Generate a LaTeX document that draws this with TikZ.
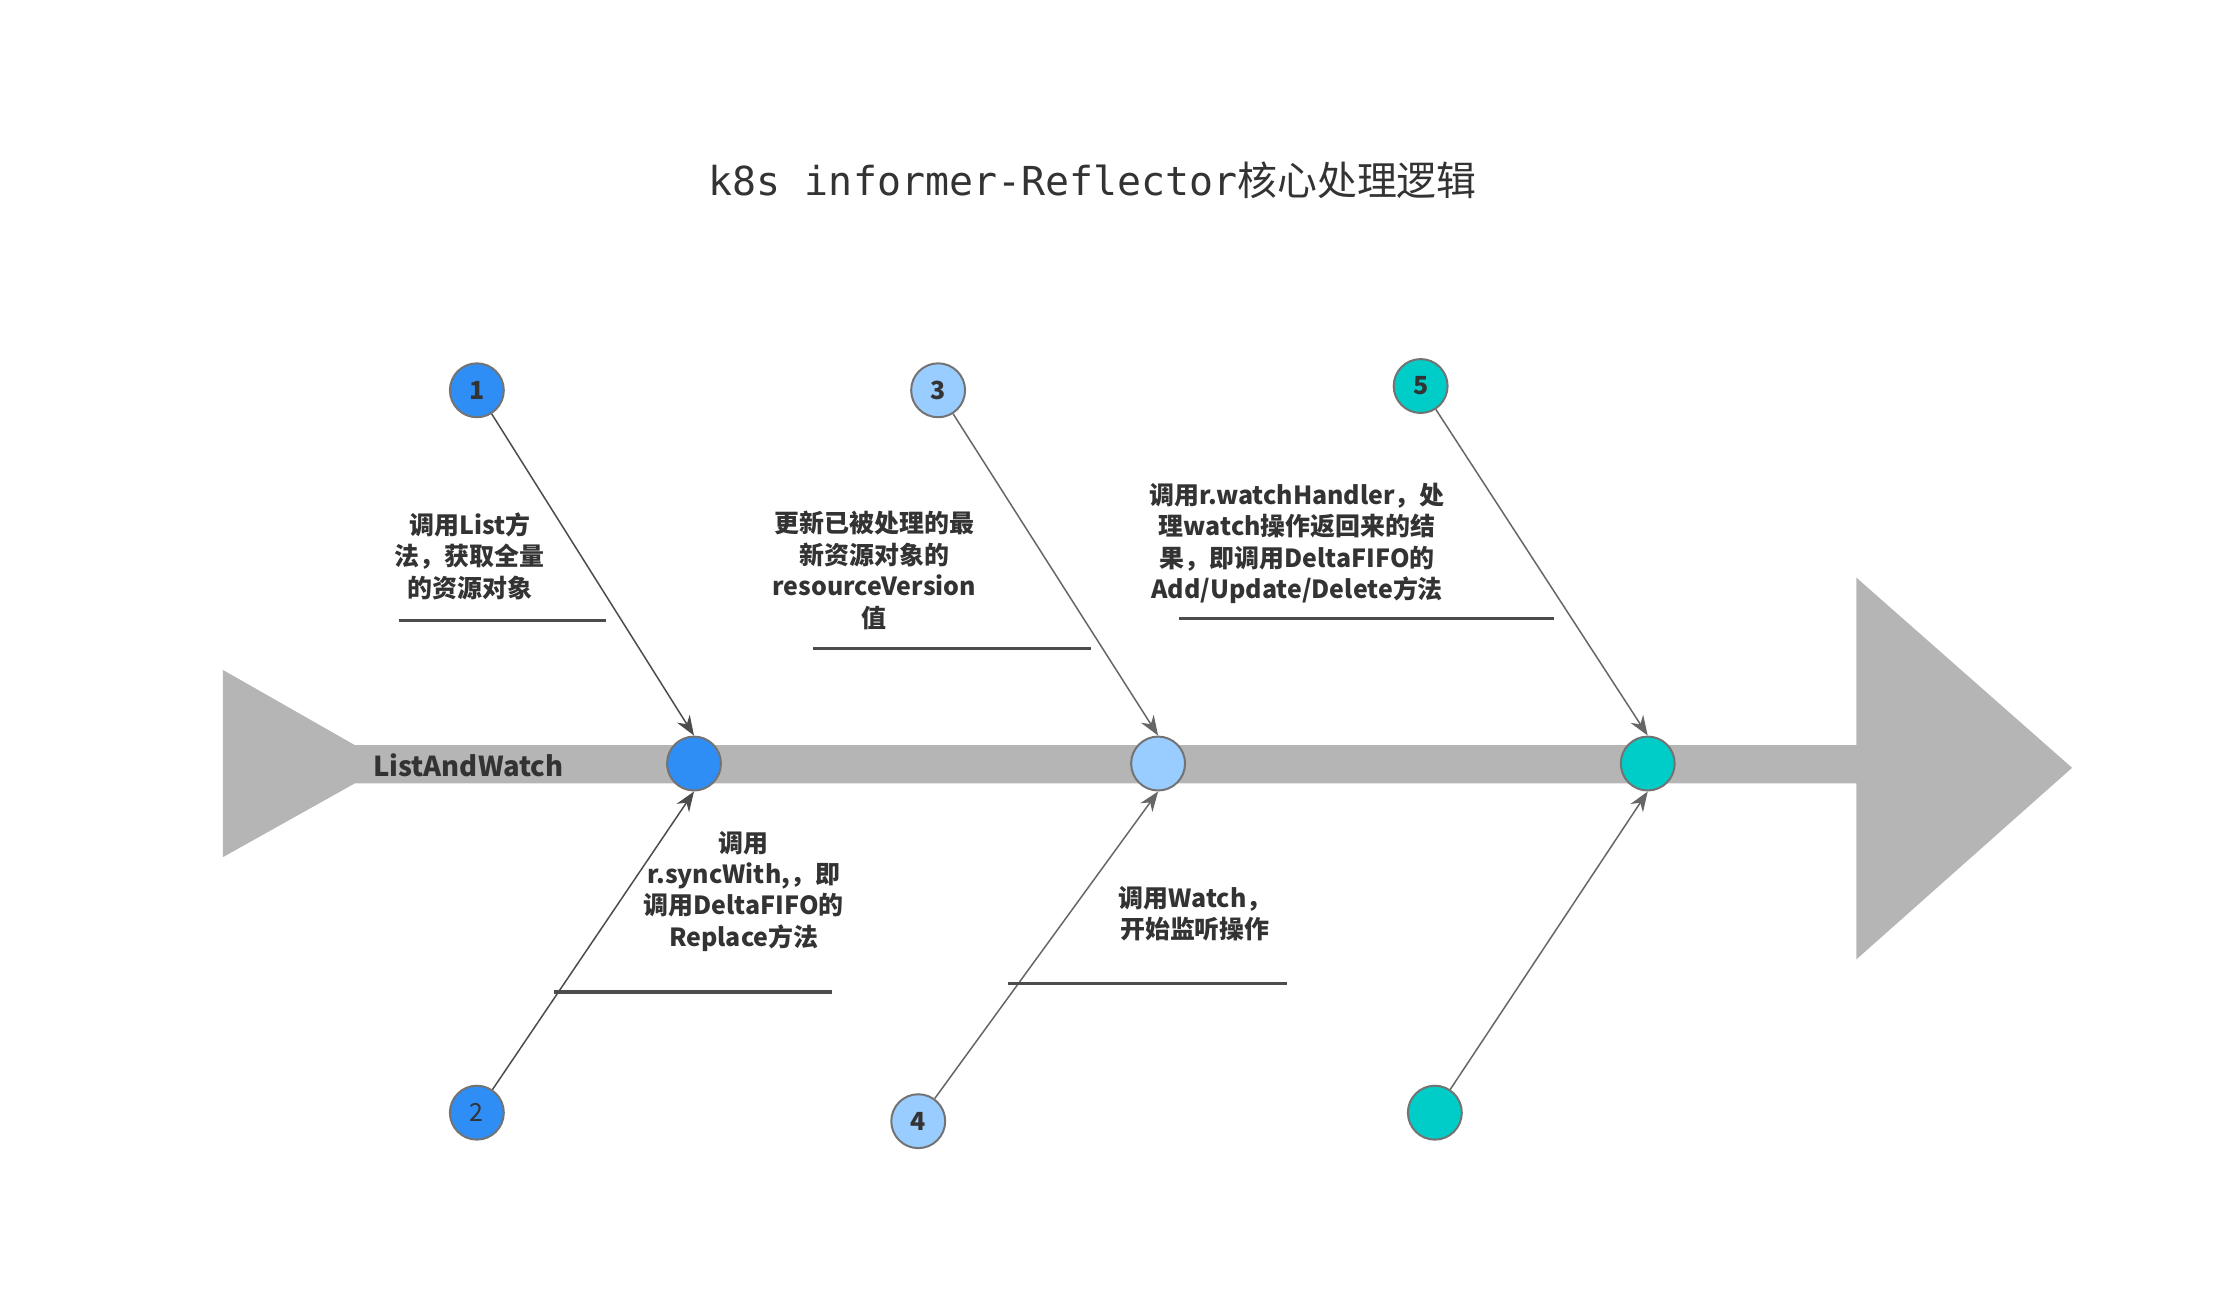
\documentclass[tikz,border=0pt]{standalone}
\usepackage{fontspec}
\setmainfont{Noto Sans CJK SC}
\newfontfamily\cjk{Noto Sans CJK SC}
\newfontfamily\monof{DejaVu Sans Mono}
\usetikzlibrary{arrows.meta}
\definecolor{spine}{HTML}{B5B5B5}
\definecolor{cA}{HTML}{2E8EF5}
\definecolor{cB}{HTML}{99CCFF}
\definecolor{cC}{HTML}{00CCC8}
\definecolor{txt}{HTML}{333333}
\tikzset{
  dot/.style={circle,draw=black!55,line width=0.8pt,minimum size=0.76cm,inner sep=0pt,font=\bfseries\fontsize{10}{12}\selectfont,text=txt},
  lbl/.style={align=center,font=\bfseries\fontsize{10}{12.6}\selectfont,text=txt,inner sep=0pt},
  bone/.style={draw=black!70,line width=0.6pt,-{Stealth[length=8pt,width=6pt]}},
  uline/.style={draw=black!70,line width=1.3pt}
}
\begin{document}
\begin{tikzpicture}[x=0.02cm,y=-0.02cm]
\useasboundingbox (0,0) rectangle (1560,917.4);
\node[font=\fontsize{16}{18}\selectfont,text=txt] (title) at (770,127) {\monof k8s informer-Reflector\cjk 核心处理逻辑};
% spine
\fill[spine] (157,472) -- (250,525) -- (1308,525) -- (1308,407) -- (1460,541) -- (1308,676) -- (1308,552) -- (250,552) -- (157,604) -- cycle;
\node[font=\bfseries\fontsize{11}{13}\selectfont,text=txt] (law) at (330,539) {ListAndWatch};
\node[dot,fill=cA] (s1) at (489,538) {};
\node[dot,fill=cB] (s2) at (816,538) {};
\node[dot,fill=cC] (s3) at (1161,538) {};
\node[dot,fill=cA] (n1) at (336,275) {1};
\node[dot,fill=cB] (n3) at (661,275) {3};
\node[dot,fill=cC] (n5) at (1001,272) {5};
\node[dot,fill=cA,font=\fontsize{10}{12}\selectfont] (n2) at (336,784) {2};
\node[dot,fill=cB] (n4) at (647,790) {4};
\node[dot,fill=cC] (n6) at (1011,784) {};
\draw[bone] (n1) -- (s1.north);
\draw[bone] (n2) -- (s1.south);
\draw[bone,draw=black!60] (n3) -- (s2.north);
\draw[bone,draw=black!60] (n4) -- (s2.south);
\draw[bone,draw=black!60] (n5) -- (s3.north);
\draw[bone,draw=black!60] (n6) -- (s3.south);
% labels
\node[lbl] (t1) at (331,392) {调用List方\\法，获取全量\\的资源对象};
\coordinate (a1) at (281,437); \coordinate (b1) at (427,437); \draw[uline] (a1) -- (b1);
\node[lbl] (t3) at (616,402) {更新已被处理的最\\新资源对象的\\resourceVersion\\值};
\coordinate (a3) at (573,457); \coordinate (b3) at (769,457); \draw[uline] (a3) -- (b3);
\node[lbl] (t5) at (914,383) {调用r.watchHandler，处\\理watch操作返回来的结\\果，即调用DeltaFIFO的\\Add/Update/Delete方法};
\coordinate (a5) at (831,436); \coordinate (b5) at (1095,436); \draw[uline] (a5) -- (b5);
\node[lbl] (t2) at (524,628) {调用\\r.syncWith,，即\\调用DeltaFIFO的\\Replace方法};
\coordinate (a2) at (390,699); \coordinate (b2) at (586,699); \draw[uline] (a2) -- (b2);
\node[lbl] (t4) at (842,644) {调用Watch，\\开始监听操作};
\coordinate (a4) at (710,693); \coordinate (b4) at (907,693); \draw[uline] (a4) -- (b4);
\end{tikzpicture}
\end{document}
